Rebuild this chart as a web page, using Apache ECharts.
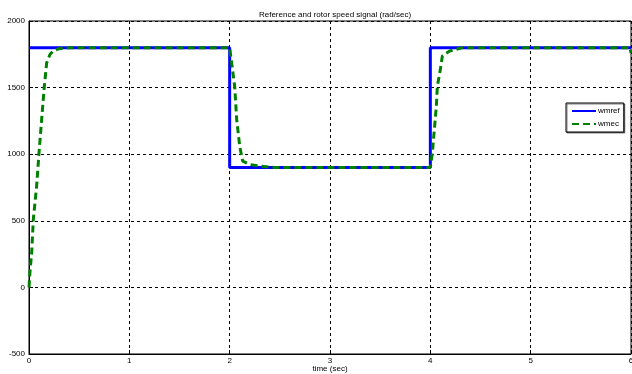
<!DOCTYPE html>
<html><head><meta charset="utf-8">
<script src="https://cdn.jsdelivr.net/npm/echarts@6/dist/echarts.min.js"></script>
<style>html,body{margin:0;padding:0;background:#fff}#c{width:632px;height:374px}</style>
</head><body><div id="c"></div>
<script>
var titleText = 'Reference and rotor speed signal (rad/sec)';
var xName = 'time (sec)';
var seriesNames = ['wmref', 'wmec'];
var wmrefTime = [0, 2, 2, 4, 4, 6];
var wmrefValues = [1800, 1800, 900, 900, 1800, 1800];
var wmecTime = [0, 0.01, 0.027, 0.043, 0.076, 0.10, 0.126, 0.153, 0.176, 0.21, 0.24, 0.3, 0.4, 2.0, 2.01, 2.05, 2.07, 2.1, 2.13, 2.2, 2.3, 2.45, 4.0, 4.01, 4.02, 4.04, 4.06, 4.07, 4.1, 4.12, 4.19, 4.32, 5.99, 6.0];
var wmecValues = [0, 120, 263, 510, 760, 1013, 1260, 1510, 1686, 1750, 1774, 1792, 1800, 1800, 1788, 1510, 1260, 1060, 948, 923, 910, 900, 900, 910, 1010, 1186, 1360, 1510, 1637, 1737, 1774, 1800, 1800, 1760];

function pairs(t, v) { return t.map(function (x, i) { return [x, v[i]]; }); }

var chart = echarts.init(document.getElementById('c'));
var fontF = '"Liberation Sans", Arial, sans-serif';
chart.setOption({
  animation: false,
  title: { text: titleText, left: 330, top: 6, textAlign: 'center',
    textStyle: { fontSize: 8, fontWeight: 'normal', color: '#000', fontFamily: fontF } },
  grid: { left: 29, right: 1, top: 21, bottom: 20, show: true, borderColor: '#000', borderWidth: 1,
    containLabel: false, outerBoundsMode: 'none' },
  legend: {
    orient: 'vertical', left: 566, top: 103, padding: [4, 4, 4, 5], itemGap: 5,
    itemWidth: 24, itemHeight: 8, borderColor: '#000', borderWidth: 1,
    shadowColor: 'rgba(0,0,0,0.5)', shadowOffsetX: 1, shadowOffsetY: 1, backgroundColor: '#fff',
    itemStyle: { opacity: 0 },
    textStyle: { fontSize: 8, color: '#000', fontFamily: fontF, padding: [0, 0, 0, -3] },
    data: seriesNames
  },
  xAxis: {
    type: 'value', min: 0, max: 6, interval: 1,
    name: xName, nameLocation: 'middle', nameGap: 15, nameMoveOverlap: false,
    nameTextStyle: { fontSize: 8, color: '#000', fontFamily: fontF, verticalAlign: 'middle' },
    axisLine: { show: true, onZero: false, lineStyle: { color: '#000' } },
    axisTick: { show: true, inside: true, length: 4, lineStyle: { color: '#000' } },
    axisLabel: { fontSize: 8, color: '#000', fontFamily: fontF, margin: 3 },
    splitLine: { show: true, lineStyle: { color: '#000', type: [3, 3], width: 1 } }
  },
  yAxis: {
    type: 'value', min: -500, max: 2000, interval: 500,
    axisLine: { show: true, lineStyle: { color: '#000' } },
    axisTick: { show: true, inside: true, length: 4, lineStyle: { color: '#000' } },
    axisLabel: { fontSize: 8, color: '#000', fontFamily: fontF, margin: 4,
      formatter: function (v) { return String(v); } },
    splitLine: { show: true, lineStyle: { color: '#000', type: [3, 3], width: 1 } }
  },
  series: [
    { name: seriesNames[0], type: 'line', data: pairs(wmrefTime, wmrefValues), showSymbol: false, symbol: 'none',
      lineStyle: { color: '#0000ff', width: 3 }, itemStyle: { color: '#0000ff' } },
    { name: seriesNames[1], type: 'line', data: pairs(wmecTime, wmecValues), showSymbol: false, symbol: 'none',
      lineStyle: { color: '#008000', width: 3, type: [7, 4] }, itemStyle: { color: '#008000' } }
  ]
});
</script></body></html>
